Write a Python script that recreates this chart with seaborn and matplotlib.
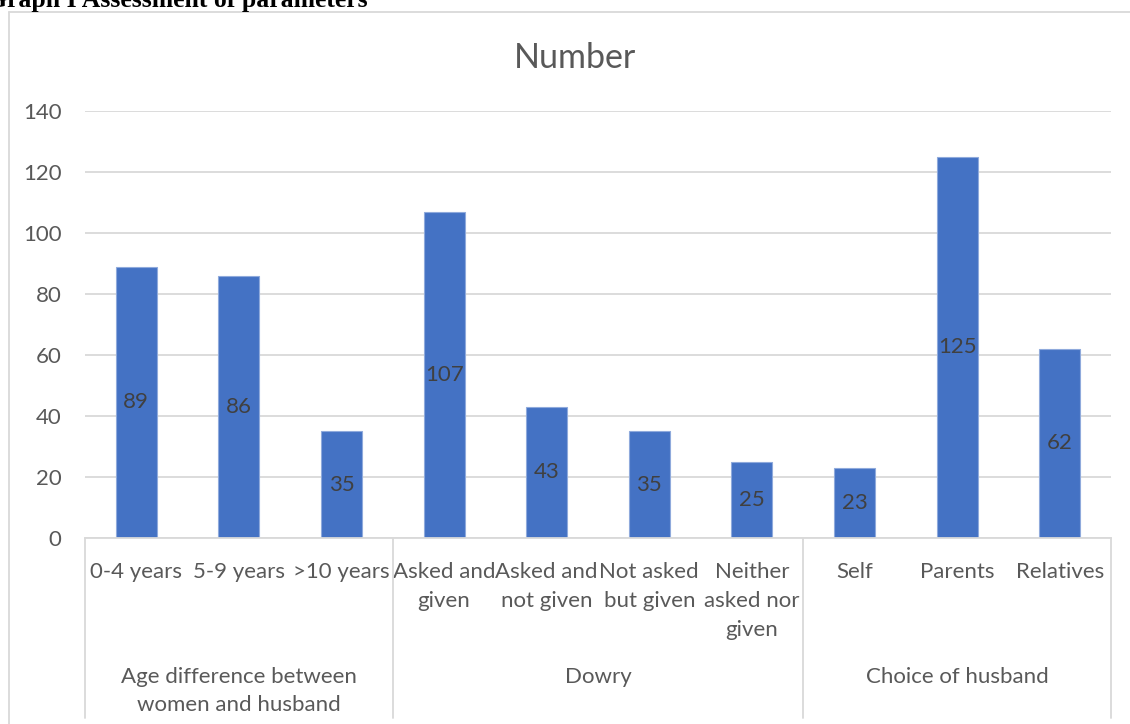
import matplotlib
matplotlib.use("Agg")
import matplotlib.pyplot as plt
import seaborn as sns
import pandas as pd
from matplotlib.lines import Line2D

categories = ["0-4 years", "5-9 years", ">10 years",
              "Asked and\ngiven", "Asked and\nnot given", "Not asked\nbut given", "Neither\nasked nor\ngiven",
              "Self", "Parents", "Relatives"]
values = [89, 86, 35, 107, 43, 35, 25, 23, 125, 62]
groups = ["Age difference between\nwomen and husband", "Dowry", "Choice of husband"]
group_sizes = [3, 4, 3]
yticks = [0, 20, 40, 60, 80, 100, 120, 140]
title = "Number"
header = "Graph I Assessment of parameters"

sns.set_theme(style="white")
plt.rcParams['font.family'] = ['Lato', 'DejaVu Sans']

W, H = 1130, 724
fig = plt.figure(figsize=(W / 100, H / 100), dpi=100)

def fx(x):
    return x / W

def fy(y):
    return 1 - y / H

x0, x1, ytop, ybot = 85, 1111, 111, 538
ax = fig.add_axes([fx(x0), fy(ybot), fx(x1) - fx(x0), fy(ytop) - fy(ybot)])

df = pd.DataFrame({"cat": categories, "val": values})
sns.barplot(data=df, x="cat", y="val", order=categories, color="#4472C4",
            width=0.4, saturation=1, edgecolor="#8FAADC", linewidth=0.8, ax=ax)

ax.set_xlim(-0.5, len(categories) - 0.5)
ax.set_ylim(0, 140)
ax.set_yticks(yticks)
ax.set_yticklabels([str(t) for t in yticks])
ax.yaxis.grid(True, color="#d9d9d9", linewidth=1.3)
ax.set_axisbelow(True)
for s in ["top", "right", "left"]:
    ax.spines[s].set_visible(False)
ax.spines["bottom"].set_color("#d9d9d9")
ax.spines["bottom"].set_linewidth(1.3)
ax.set_xlabel("")
ax.set_ylabel("")
ax.tick_params(axis="y", length=0, pad=17, labelsize=16, labelcolor="#595959")
ax.tick_params(axis="x", length=0, pad=17.5, labelsize=16, labelcolor="#595959")
ax.set_xticks(range(len(categories)))
ax.set_xticklabels(categories, linespacing=1.55, va="top", ha="center")

for c in ax.containers:
    ax.bar_label(c, label_type="center", fontsize=16, color="#404040")

# group separator lines and group labels
bounds = [0]
for g in group_sizes:
    bounds.append(bounds[-1] + g)
slot = (x1 - x0) / len(categories)
for b in bounds:
    xp = x0 + b * slot
    fig.add_artist(Line2D([fx(xp), fx(xp)], [fy(ybot), fy(718)], color="#d9d9d9", linewidth=1.3))
for i, g in enumerate(groups):
    xc = x0 + (bounds[i] + bounds[i + 1]) / 2 * slot
    fig.text(fx(xc), fy(667), g, ha="center", va="top", fontsize=16,
             color="#595959", linespacing=1.5)

# chart title
fig.text(fx(575), fy(58), title, ha="center", va="center", fontsize=24.5, color="#595959")

# outer chart border
fig.add_artist(Line2D([fx(9), fx(9)], [fy(12), 0], color="#d9d9d9", linewidth=1.3))
fig.add_artist(Line2D([fx(9), 1], [fy(12), fy(12)], color="#d9d9d9", linewidth=1.3))

# header text (partially cut off at the top, as in the source)
fig.text(fx(368), fy(7), header, ha="right", va="baseline", fontsize=18.5,
         fontweight="bold", family=["Liberation Serif", "DejaVu Serif"], color="black")

fig.savefig("out.png", dpi=100)
